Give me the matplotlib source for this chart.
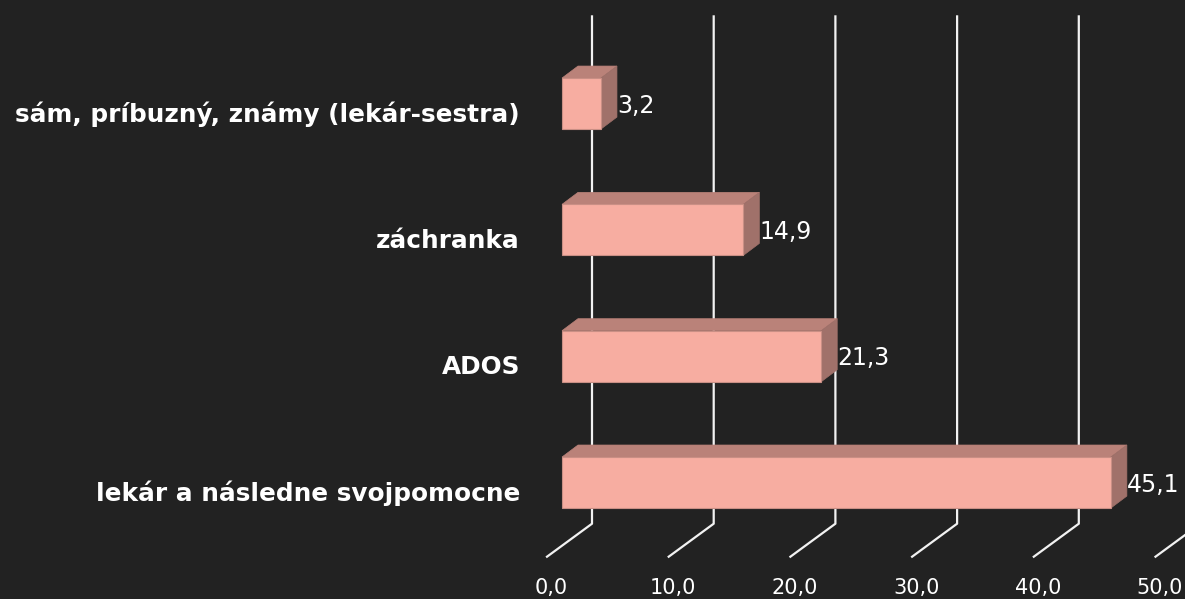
import matplotlib
matplotlib.use('Agg')
import matplotlib.pyplot as plt
from matplotlib.patches import Polygon
from matplotlib.lines import Line2D
from matplotlib.transforms import IdentityTransform

categories = ['lekár a následne svojpomocne', 'ADOS', 'záchranka',
              'sám, príbuzný, známy (lekár-sestra)']
values = [45.1, 21.3, 14.9, 3.2]
ticks = [0, 10, 20, 30, 40, 50]
tick_labels = ['0,0', '10,0', '20,0', '30,0', '40,0', '50,0']

BG = '#222222'
FRONT = '#f7ada1'
EDGE = '#c98f85'
TOP = '#ba8279'
SIDE = '#a0716a'
GRID = '#f2f2f2'
FONT = 'DejaVu Sans'

DPI = 100
W, H = 1185, 599
fig = plt.figure(figsize=(W / DPI, H / DPI), dpi=DPI, facecolor=BG)
# axes = front plane of the bars
ax = fig.add_axes([562 / W, (H - 545.7) / H, 608.5 / W, 505.3 / H])
ax.set_xlim(0, 50)
ax.set_ylim(-0.5, 3.5)
ax.axis('off')

px = IdentityTransform()
bar_h = 0.404
depth = (16, 12)      # bar depth in pixels
wall = (30, 24)       # back wall offset from bar front plane
floor = (-15, -11)    # front edge of the floor


def disp(x, y, off=(0, 0)):
    p = ax.transData.transform((x, y))
    return p[0] + off[0], p[1] + off[1]


# gridlines on the back wall + floor diagonals
for t, lab in zip(ticks, tick_labels):
    top = disp(t, 3.5, wall)
    bot = disp(t, -0.5, (wall[0], 22))
    front = disp(t, -0.5, floor)
    fig.add_artist(Line2D([top[0], bot[0], front[0]], [top[1], bot[1], front[1]],
                          transform=px, color=GRID, lw=1.6, zorder=1))
    fig.text(front[0] + 4, front[1] - 31, lab, transform=px, ha='center', va='center',
             color='white', fontsize=15, family=FONT)

# bars
for i, (cat, v) in enumerate(zip(categories, values)):
    y0, y1 = i - bar_h / 2, i + bar_h / 2
    fl, fr = disp(0, y1), disp(v, y1)
    bl, br = disp(0, y0), disp(v, y0)
    bk = lambda p: (p[0] + depth[0], p[1] + depth[1])
    fig.add_artist(Polygon([fl, fr, bk(fr), bk(fl)], closed=True, transform=px,
                           facecolor=TOP, edgecolor=TOP, lw=0.5, zorder=3))
    fig.add_artist(Polygon([br, fr, bk(fr), bk(br)], closed=True, transform=px,
                           facecolor=SIDE, edgecolor=SIDE, lw=0.5, zorder=3))
    fig.add_artist(Polygon([bl, br, fr, fl], closed=True, transform=px,
                           facecolor=FRONT, edgecolor=EDGE, lw=0.8, zorder=4))

    lx, ly = disp(v, i, (16, -2))
    fig.text(lx, ly, f'{v:.1f}'.replace('.', ','), transform=px, ha='left', va='center',
             color='white', fontsize=17, family=FONT)
    cx, cy = disp(0, i, (-42, -11))
    fig.text(cx, cy, cat, transform=px, ha='right', va='center',
             color='white', fontsize=17.8, fontweight='bold', family=FONT)

fig.savefig('out.png', dpi=DPI, facecolor=BG)
